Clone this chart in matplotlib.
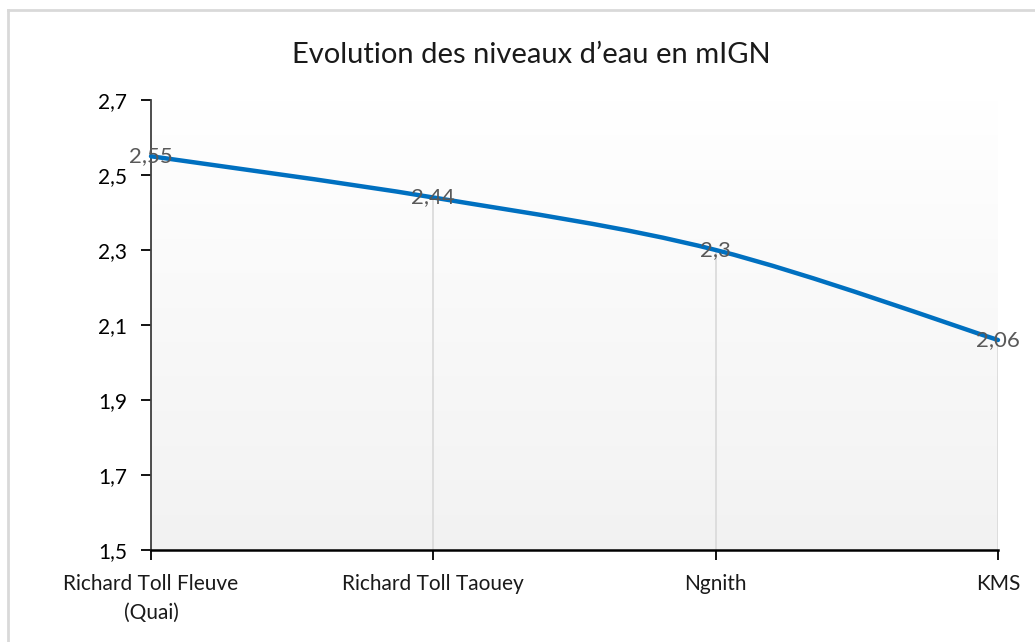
import numpy as np
import matplotlib
matplotlib.use('Agg')
import matplotlib.pyplot as plt
from matplotlib.path import Path
from matplotlib.patches import PathPatch
from matplotlib.lines import Line2D

plt.rcParams['font.family'] = ['Lato', 'DejaVu Sans']

stations = ['Richard Toll Fleuve\n(Quai)', 'Richard Toll Taouey', 'Ngnith', 'KMS']
niveaux = [2.55, 2.44, 2.3, 2.06]
yticks = [1.5, 1.7, 1.9, 2.1, 2.3, 2.5, 2.7]

fig = plt.figure(figsize=(10.35, 6.42), dpi=100)
ax = fig.add_axes([151 / 1035, 1 - 550 / 642, 847 / 1035, 450 / 642])

x = np.arange(len(niveaux))
ax.set_xlim(0, len(niveaux) - 1)
ax.set_ylim(1.5, 2.7)

# fond en degrade blanc -> gris clair
grad = np.linspace(1.0, 0.949, 256).reshape(-1, 1)
ax.imshow(np.dstack([grad, grad, grad]), extent=[0, 3, 1.5, 2.7], aspect='auto',
          origin='upper', zorder=0)

# lignes de rappel verticales
ax.vlines(x, 1.5, niveaux, colors='#D9D9D9', lw=1.2, zorder=1)

# courbe lissee (bezier style Excel)
pts = list(zip(x, niveaux))
verts = [pts[0]]
codes = [Path.MOVETO]
for i in range(len(pts) - 1):
    p0 = pts[i - 1] if i > 0 else pts[i]
    p1 = pts[i]
    p2 = pts[i + 1]
    p3 = pts[i + 2] if i + 2 < len(pts) else pts[i + 1]
    c1 = (p1[0] + (p2[0] - p0[0]) / 6, p1[1] + (p2[1] - p0[1]) / 6)
    c2 = (p2[0] - (p3[0] - p1[0]) / 6, p2[1] - (p3[1] - p1[1]) / 6)
    verts += [c1, c2, p2]
    codes += [Path.CURVE4] * 3
ax.add_patch(PathPatch(Path(verts, codes), fill=False, edgecolor='#0070C0', lw=3.2,
                       capstyle='round', zorder=3, clip_on=False))

for xi, v in zip(x, niveaux):
    ax.text(xi, v, str(v).replace('.', ','), ha='center', va='center', fontsize=16,
            color='#595959', zorder=4)

ax.set_xticks(x)
ax.set_xticklabels(stations, fontsize=15, color='#1a1a1a', linespacing=1.6)
ax.set_yticks(yticks)
ax.set_yticklabels([str(t).replace('.', ',') for t in yticks], fontsize=15)
ax.tick_params(axis='both', direction='out', length=7, width=1.3, color='black')
ax.tick_params(axis='x', pad=10)
ax.tick_params(axis='y', pad=10)

for s in ['top', 'right']:
    ax.spines[s].set_visible(False)
ax.spines['left'].set_color('#404040')
ax.spines['left'].set_linewidth(1.3)
ax.spines['bottom'].set_color('black')
ax.spines['bottom'].set_linewidth(1.8)

fig.text(531 / 1035, 1 - 55 / 642, 'Evolution des niveaux d\u2019eau en mIGN',
         ha='center', va='center', fontsize=21, color='#1a1a1a')

# bordure du cadre
fig.add_artist(Line2D([8 / 1035, 1], [1 - 10 / 642] * 2, color='#D9D9D9', lw=2))
fig.add_artist(Line2D([8 / 1035] * 2, [0, 1 - 10 / 642], color='#D9D9D9', lw=2))

fig.savefig('out.png', dpi=100)
